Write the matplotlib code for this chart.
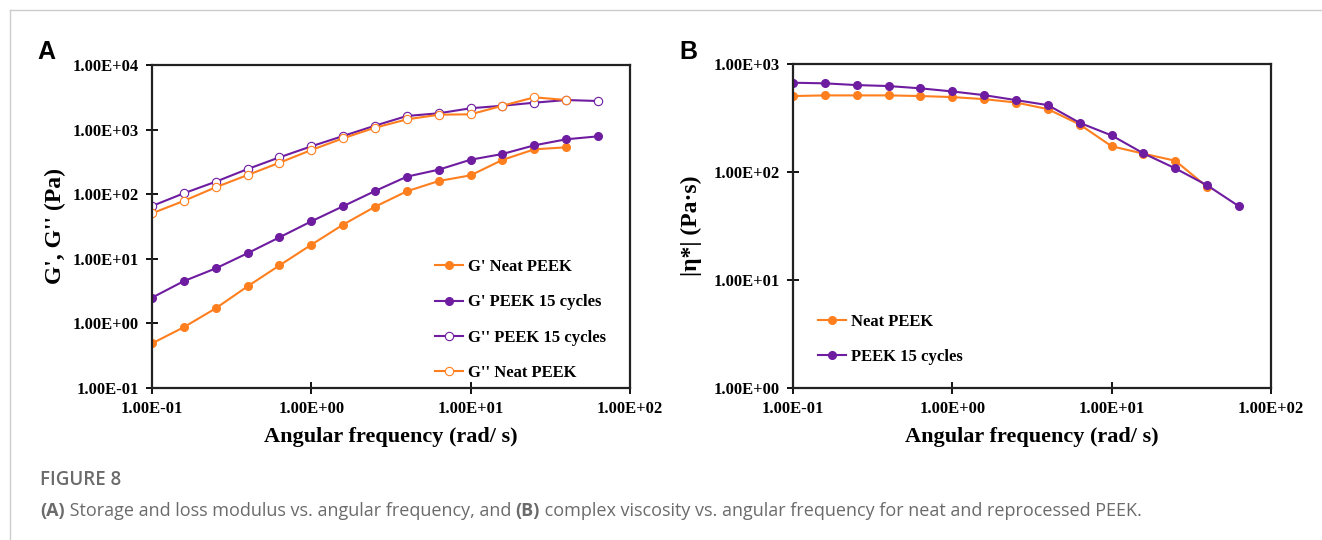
import numpy as np
import matplotlib
matplotlib.use('Agg')
import matplotlib.pyplot as plt
from matplotlib.ticker import FixedLocator, FuncFormatter, NullLocator
from matplotlib.lines import Line2D

# angular frequency (rad/s)
freq = [0.1, 0.158, 0.251, 0.398, 0.631, 1.0, 1.58, 2.51, 3.98, 6.31, 10.0, 15.8, 25.1, 39.8, 63.1]

# panel A: storage / loss modulus (Pa)
g1_neat = [0.49, 0.87, 1.71, 3.75, 7.9, 16.5, 33.7, 64, 111, 160, 196, 339, 495, 532]
g1_15 = [2.5, 4.5, 7.1, 12.2, 21.5, 38, 65, 112, 187, 240, 342, 419, 571, 708, 787]
g2_15 = [65.6, 103, 156, 245, 372, 551, 795, 1150, 1625, 1790, 2140, 2340, 2610, 2870, 2770]
g2_neat = [50.6, 78.5, 128, 198, 307, 483, 733, 1070, 1440, 1700, 1725, 2340, 3160, 2870]

# panel B: complex viscosity (Pa s)
eta_neat = [505, 512, 512, 512, 505, 494, 473, 440, 382, 275, 173, 148, 127, 72.6]
eta_15 = [671, 662, 638, 625, 595, 557, 515, 463, 416, 285, 218, 149, 108, 75.2, 48]

orange = '#FF7F1E'
purple = '#6E1CA0'
serif = ['Liberation Serif', 'DejaVu Serif']

fig = plt.figure(figsize=(13.22, 5.4), dpi=100)

def fmt(v, pos):
    return '%.2E' % v

def style_axes(ax, ylo, yhi):
    ax.set_xscale('log')
    ax.set_yscale('log')
    ax.set_xlim(0.1, 100)
    ax.set_ylim(ylo, yhi)
    ax.xaxis.set_major_locator(FixedLocator([0.1, 1, 10, 100]))
    yt = [10.0 ** k for k in range(int(np.log10(ylo)), int(np.log10(yhi)) + 1)]
    ax.yaxis.set_major_locator(FixedLocator(yt))
    ax.xaxis.set_minor_locator(NullLocator())
    ax.yaxis.set_minor_locator(NullLocator())
    ax.xaxis.set_major_formatter(FuncFormatter(fmt))
    ax.yaxis.set_major_formatter(FuncFormatter(fmt))
    ax.tick_params(direction='inout', length=9, width=1.3, labelsize=12, pad=5)
    for lab in ax.get_xticklabels() + ax.get_yticklabels():
        lab.set_family(serif)
        lab.set_fontweight('bold')
    for sp in ax.spines.values():
        sp.set_linewidth(1.6)
        sp.set_color('#222222')

lab_font = dict(family=serif, fontweight='bold', fontsize=16)
leg_font = dict(family=serif, weight='bold', size=12)

# ---- panel A
axA = fig.add_axes([152 / 1322, 152 / 540, 478 / 1322, 323 / 540])
axA.plot(freq[:len(g1_neat)], g1_neat, '-o', color=orange, lw=1.5, ms=5.5, label="G' Neat PEEK")
axA.plot(freq, g1_15, '-o', color=purple, lw=1.5, ms=5.5, label="G' PEEK 15 cycles")
axA.plot(freq, g2_15, '-o', color=purple, lw=1.5, ms=6, mfc='white', mew=0.8, label="G'' PEEK 15 cycles")
axA.plot(freq[:len(g2_neat)], g2_neat, '-o', color=orange, lw=1.5, ms=6, mfc='white', mew=0.8, label="G'' Neat PEEK")
style_axes(axA, 0.1, 1e4)
axA.set_xlabel('Angular frequency (rad/ s)', labelpad=7, **lab_font)
axA.set_ylabel("G', G'' (Pa)", labelpad=5, fontsize=17, family=serif, fontweight='bold')
axA.legend(loc='upper left', bbox_to_anchor=(0.56, 0.445), frameon=False, prop=leg_font,
           handlelength=1.7, handletextpad=0.3, labelspacing=1.15)

# ---- panel B
axB = fig.add_axes([793 / 1322, 152 / 540, 478 / 1322, 324 / 540])
axB.plot(freq[:len(eta_neat)], eta_neat, '-o', color=orange, lw=1.5, ms=5.5, label='Neat PEEK')
axB.plot(freq, eta_15, '-o', color=purple, lw=1.5, ms=5.5, label='PEEK 15 cycles')
style_axes(axB, 1, 1e3)
axB.set_xlabel('Angular frequency (rad/ s)', labelpad=7, **lab_font)
axB.set_ylabel('|\u03b7*| (Pa\u00b7s)', labelpad=8, fontsize=17, family=serif, fontweight='bold')
axB.legend(loc='upper left', bbox_to_anchor=(0.02, 0.276), frameon=False, prop=leg_font,
           handlelength=1.7, handletextpad=0.3, labelspacing=1.15)

# panel letters
fig.text(37 / 1322, 1 - 52 / 540, 'A', family=['Liberation Sans', 'DejaVu Sans'],
         fontweight='bold', fontsize=18, va='center')
fig.text(679 / 1322, 1 - 52 / 540, 'B', family=['Liberation Sans', 'DejaVu Sans'],
         fontweight='bold', fontsize=18, va='center')

# page frame lines
fig.add_artist(Line2D([10 / 1322, 1], [1 - 10 / 540, 1 - 10 / 540], color='#cccccc', lw=1))
fig.add_artist(Line2D([10 / 1322, 10 / 1322], [0, 1 - 10 / 540], color='#cccccc', lw=1))

# caption
cap_font = ['Open Sans', 'DejaVu Sans']
fig.text(40 / 1322, 1 - 480 / 540, 'FIGURE 8', family=cap_font, color='#6b6b6b',
         fontsize=13.5, fontweight='semibold', va='center')
parts = [('(A)', 'bold'), (' Storage and loss modulus vs. angular frequency, and ', 'normal'),
         ('(B)', 'bold'), (' complex viscosity vs. angular frequency for neat and reprocessed PEEK.', 'normal')]
renderer = fig.canvas.get_renderer()
x = 40
for s, w in parts:
    t = fig.text(x / 1322, 1 - 511 / 540, s, family=cap_font, color='#6b6b6b',
                 fontsize=13, fontweight=w, va='center')
    bb = t.get_window_extent(renderer=renderer)
    x += bb.width
fig.savefig('out.png', dpi=100)
